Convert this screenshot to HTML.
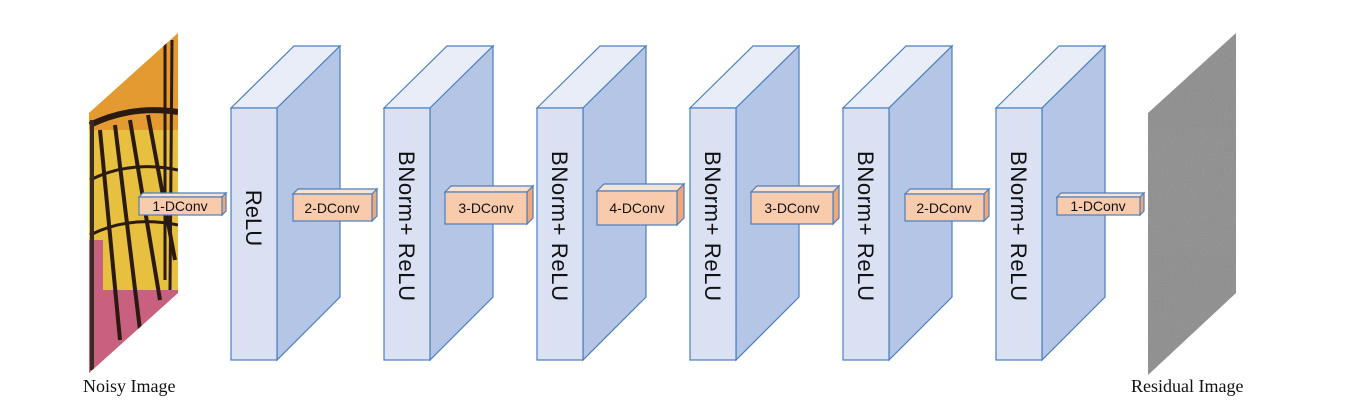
<!DOCTYPE html>
<html><head><meta charset="utf-8"><style>
html,body{margin:0;padding:0;background:#fff;width:1350px;height:406px;overflow:hidden}
</style></head><body>
<svg width="1350" height="406" viewBox="0 0 1350 406" xmlns="http://www.w3.org/2000/svg">
<defs>
<clipPath id="bf"><polygon points="89,113 178,33 178,293 89,373"/></clipPath>
<filter id="noise"><feTurbulence type="fractalNoise" baseFrequency="0.9" numOctaves="2" seed="3"/><feColorMatrix type="saturate" values="0.3"/></filter>
<clipPath id="rs"><polygon points="1148,113 1236,33 1236,293 1148,375"/></clipPath>
</defs>
<!-- Noisy image -->
<g clip-path="url(#bf)">
<rect x="85" y="30" width="100" height="350" fill="#e8c040"/>
<rect x="85" y="30" width="100" height="100" fill="#e39a30"/>
<rect x="85" y="290" width="100" height="90" fill="#c86080"/>
<rect x="85" y="240" width="18" height="60" fill="#c86080"/>
<path d="M90,125 Q130,105 178,112" stroke="#2a1a10" stroke-width="6" fill="none"/>
<path d="M100,130 L120,340 M115,125 L140,330 M130,120 L160,300 M148,115 L175,260" stroke="#2a1a10" stroke-width="4" fill="none"/>
<path d="M90,180 Q130,160 178,170 M90,235 Q130,215 178,225" stroke="#2a1a10" stroke-width="3" fill="none"/>
<path d="M165,40 L165,280 M172,40 L170,290" stroke="#2a1a10" stroke-width="3" fill="none"/>
<path d="M92,120 L92,370" stroke="#3a2a20" stroke-width="4" fill="none"/>
</g>
<!-- Residual -->
<g clip-path="url(#rs)">
<rect x="1140" y="30" width="100" height="350" fill="#8c8c8c"/>
<rect x="1140" y="30" width="100" height="350" filter="url(#noise)" opacity="0.25"/>
</g>
<g stroke="#4a7fc0" stroke-width="1.2">
<g id="b1">
<polygon points="231,108 294,46 340,46 277,108" fill="#e9edf8"/>
<polygon points="277,108 340,46 340,297 277,360" fill="#b4c5e6"/>
<rect x="231" y="108" width="46" height="252" fill="#dae1f3"/>
</g>
<use href="#b1" x="153"/>
<use href="#b1" x="306"/>
<use href="#b1" x="459"/>
<use href="#b1" x="612"/>
<use href="#b1" x="765"/>
</g>
<g font-family="Liberation Sans, sans-serif" font-size="22" fill="#111" text-anchor="middle">
<text transform="translate(246,218) rotate(90)">ReLU</text>
<text transform="translate(399,226) rotate(90)" textLength="150">BNorm+ ReLU</text>
<text transform="translate(552,226) rotate(90)" textLength="150">BNorm+ ReLU</text>
<text transform="translate(705,226) rotate(90)" textLength="150">BNorm+ ReLU</text>
<text transform="translate(858,226) rotate(90)" textLength="150">BNorm+ ReLU</text>
<text transform="translate(1011,226) rotate(90)" textLength="150">BNorm+ ReLU</text>
</g>
<!-- conv boxes -->
<g stroke="#4a7fc0" stroke-width="1.2" font-family="Liberation Sans, sans-serif" font-size="14" text-anchor="middle">
<g>
<polygon points="139,197 143,193 226,193 222,197" fill="#fbe2d0"/>
<polygon points="222,197 226,193 226,211 222,215" fill="#f0a878"/>
<rect x="139" y="197" width="83" height="18" fill="#f8cbad"/>
<text x="180" y="211" stroke="none" fill="#111">1-DConv</text>
</g>
<g>
<polygon points="293,194 298,189 377,189 372,194" fill="#fbe2d0"/>
<polygon points="372,194 377,189 377,216 372,221" fill="#f0a878"/>
<rect x="293" y="194" width="79" height="27" fill="#f8cbad"/>
<text x="332" y="213" stroke="none" fill="#111">2-DConv</text>
</g>
<g>
<polygon points="445,192 451,186 533,186 527,192" fill="#fbe2d0"/>
<polygon points="527,192 533,186 533,218 527,224" fill="#f0a878"/>
<rect x="445" y="192" width="82" height="32" fill="#f8cbad"/>
<text x="486" y="213" stroke="none" fill="#111">3-DConv</text>
</g>
<g>
<polygon points="597,191 604,184 684,184 677,191" fill="#fbe2d0"/>
<polygon points="677,191 684,184 684,218 677,225" fill="#f0a878"/>
<rect x="597" y="191" width="80" height="34" fill="#f8cbad"/>
<text x="637" y="213" stroke="none" fill="#111">4-DConv</text>
</g>
<g>
<polygon points="751,192 757,186 839,186 833,192" fill="#fbe2d0"/>
<polygon points="833,192 839,186 839,218 833,224" fill="#f0a878"/>
<rect x="751" y="192" width="82" height="32" fill="#f8cbad"/>
<text x="792" y="213" stroke="none" fill="#111">3-DConv</text>
</g>
<g>
<polygon points="905,194 910,189 989,189 984,194" fill="#fbe2d0"/>
<polygon points="984,194 989,189 989,216 984,221" fill="#f0a878"/>
<rect x="905" y="194" width="79" height="27" fill="#f8cbad"/>
<text x="944" y="213" stroke="none" fill="#111">2-DConv</text>
</g>
<g>
<polygon points="1057,197 1061,193 1144,193 1140,197" fill="#fbe2d0"/>
<polygon points="1140,197 1144,193 1144,211 1140,215" fill="#f0a878"/>
<rect x="1057" y="197" width="83" height="18" fill="#f8cbad"/>
<text x="1098" y="211" stroke="none" fill="#111">1-DConv</text>
</g>
</g>
<g font-family="Liberation Serif, serif" font-size="18" fill="#111">
<text x="83" y="392">Noisy Image</text>
<text x="1131" y="392">Residual Image</text>
</g>
</svg>
</body></html>
